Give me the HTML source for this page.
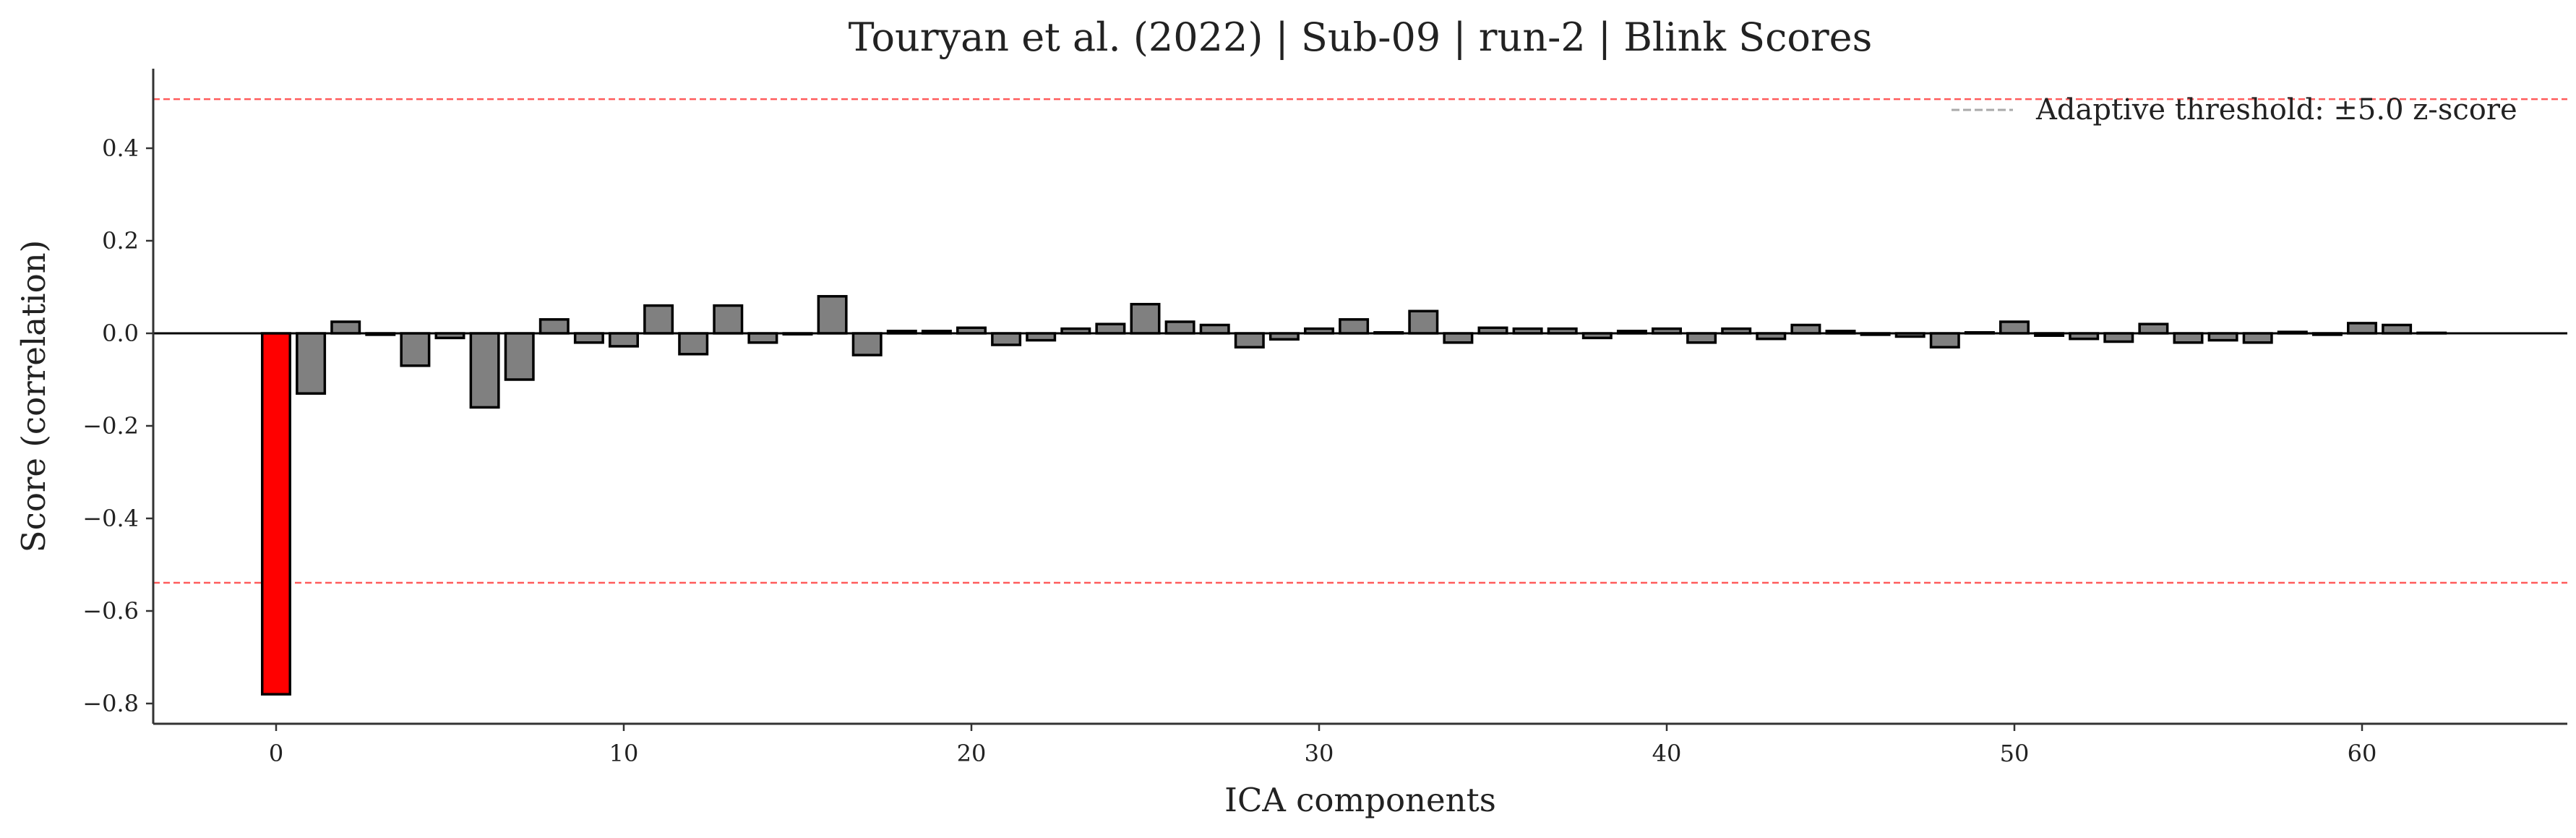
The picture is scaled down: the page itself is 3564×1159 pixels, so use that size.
<!DOCTYPE html>
<html><head><meta charset="utf-8"><style>
html,body{margin:0;padding:0;background:#fff}
svg{display:block}
text{font-family:"DejaVu Serif","Liberation Serif",serif;fill:#222}
</style></head><body>
<svg id="chart" width="3564" height="1159" viewBox="0 0 3564 1159">
<text x="1882" y="70" text-anchor="middle" font-size="54">Touryan et al. (2022) | Sub-09 | run-2 | Blink Scores</text>
<g id="plot"></g>
<text x="1882" y="1122" text-anchor="middle" font-size="45">ICA components</text>
<text transform="translate(62,548) rotate(-90)" text-anchor="middle" font-size="45">Score (correlation)</text>
<g>
<line x1="2700" y1="152" x2="2785" y2="152" stroke="#aaa" stroke-width="3" stroke-dasharray="11,5"/>
<text x="2817" y="165" font-size="40" fill="#111">Adaptive threshold: ±5.0 z-score</text>
</g>
</svg>
<script>
const componentIds = Array.from({length:63},(_,i)=>i);
const scores = [-0.78,-0.13,0.025,-0.003,-0.07,-0.01,-0.16,-0.10,0.03,-0.02,-0.028,0.06,-0.045,0.06,-0.02,-0.002,0.08,-0.047,0.005,0.005,0.012,-0.025,-0.015,0.01,0.02,0.063,0.025,0.018,-0.03,-0.013,0.01,0.03,0.002,0.048,-0.02,0.012,0.01,0.01,-0.01,0.005,0.01,-0.02,0.01,-0.012,0.018,0.005,-0.003,-0.007,-0.03,0.002,0.025,-0.005,-0.012,-0.018,0.02,-0.02,-0.015,-0.02,0.003,-0.003,0.022,0.018,0.001];
const flagged = [0];
const thresholds = [0.506,-0.539];
const yTicks = [-0.8,-0.6,-0.4,-0.2,0.0,0.2,0.4];
const xTicks = [0,10,20,30,40,50,60];

const NS="http://www.w3.org/2000/svg";
const L=212,R=3552,T=95,B=1001;
const xS=v=>382+(v-0)*48.1;
const yS=v=>461-v*640;
const g=document.getElementById('plot');
function mk(tag,attrs){const e=document.createElementNS(NS,tag);for(const k in attrs)e.setAttribute(k,attrs[k]);g.appendChild(e);return e;}

thresholds.forEach((t,i)=>{
  const e=mk('line',{x1:L,x2:R,y1:yS(t),y2:yS(t),stroke:'#ff5c5c','stroke-width':2.5,'stroke-dasharray':'9,5'});
  
  
});
mk('line',{x1:L,x2:R,y1:yS(0),y2:yS(0),stroke:'#000','stroke-width':3});
componentIds.forEach((c,i)=>{
  const v=scores[i];
  const x=xS(c-0.4),w=xS(c+0.4)-xS(c-0.4);
  const y=Math.min(yS(v),yS(0)),h=Math.abs(yS(v)-yS(0));
  const r=mk('rect',{x:x,y:y,width:w,height:Math.max(h,0.5),fill:flagged.includes(c)?'#ff0000':'#808080',stroke:'#000','stroke-width':3.5});
  
  
});
mk('line',{x1:L,x2:L,y1:T,y2:B,stroke:'#333','stroke-width':3});
mk('line',{x1:L,x2:R,y1:B,y2:B,stroke:'#333','stroke-width':3});
yTicks.forEach(t=>{
  mk('line',{x1:L-10,x2:L,y1:yS(t),y2:yS(t),stroke:'#333','stroke-width':2.5});
  const e=mk('text',{x:L-20,y:yS(t)+11,'text-anchor':'end','font-size':32});
  e.textContent=(t<0?'\u2212':'')+Math.abs(t).toFixed(1);
  
  
});
xTicks.forEach(t=>{
  mk('line',{x1:xS(t),x2:xS(t),y1:B,y2:B+10,stroke:'#333','stroke-width':2.5});
  const e=mk('text',{x:xS(t),y:B+52,'text-anchor':'middle','font-size':32});
  e.textContent=String(t);
  
  
});
</script>
</body></html>
